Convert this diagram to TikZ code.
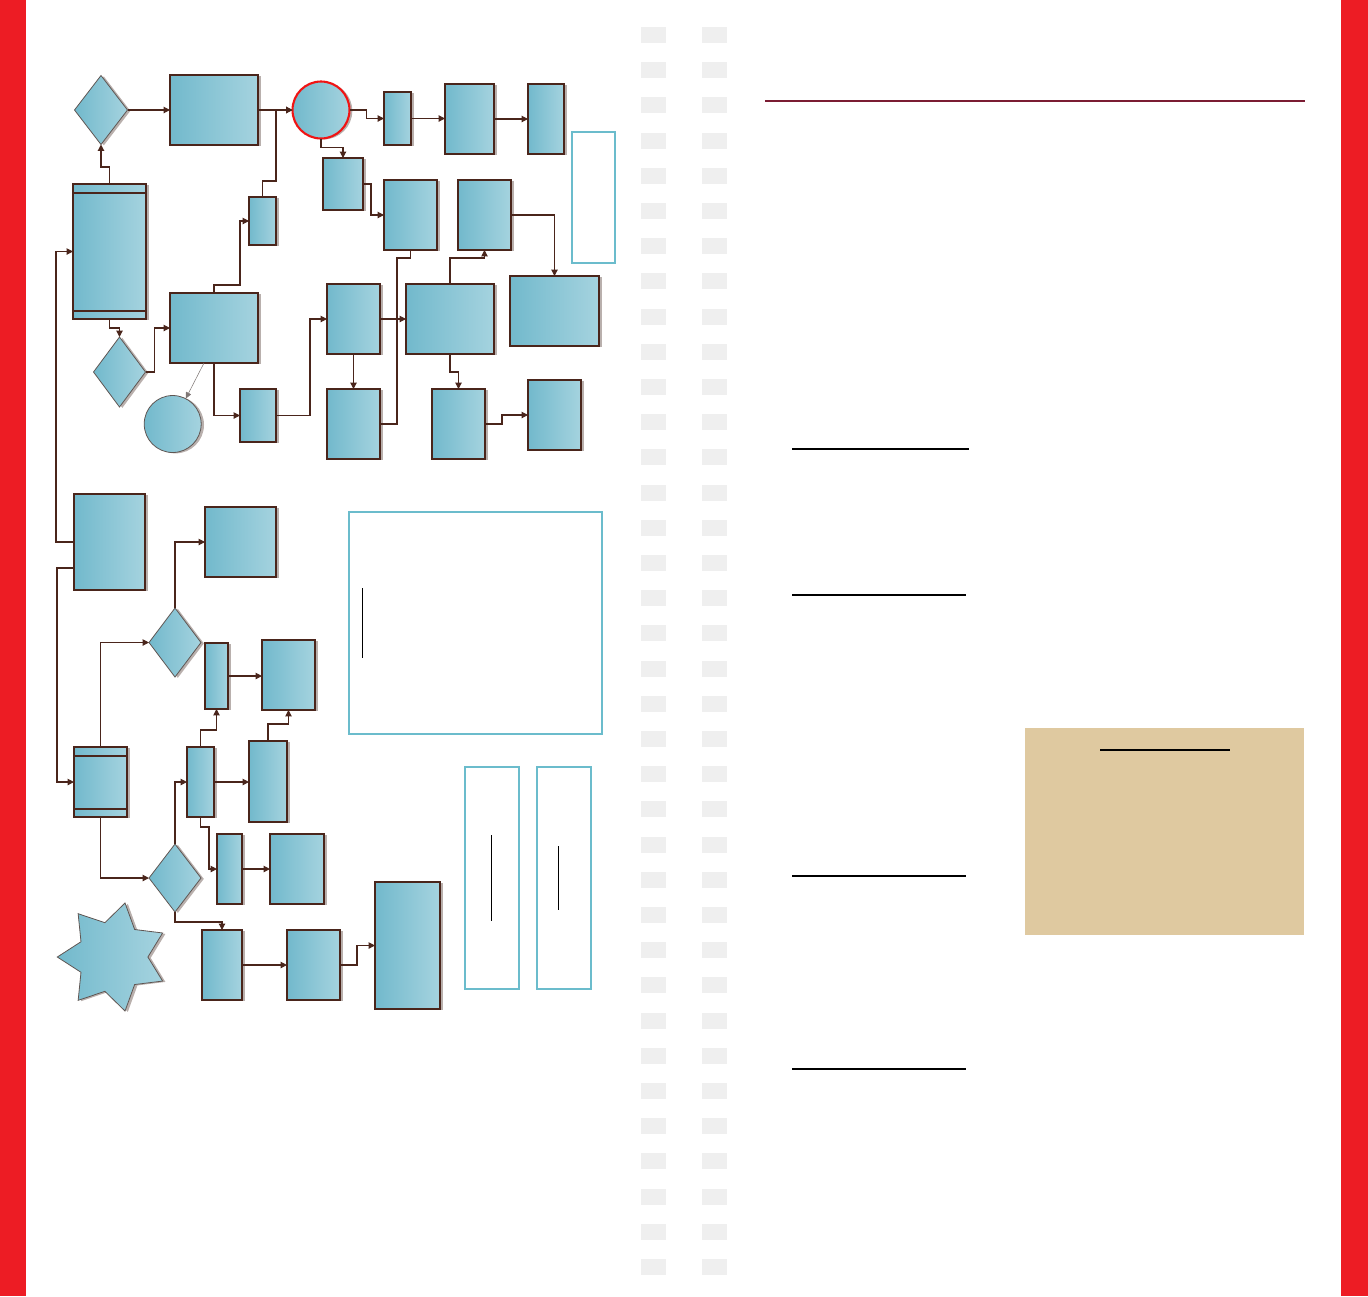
\documentclass[tikz,border=0pt]{standalone}
\usetikzlibrary{arrows.meta,shapes.geometric,shadows,calc}
\definecolor{gA}{RGB}{114,185,204}
\definecolor{gB}{RGB}{165,211,223}
\definecolor{brd}{RGB}{74,37,27}
\definecolor{dgr}{RGB}{95,85,82}
\definecolor{shd}{RGB}{185,176,173}
\definecolor{redbar}{RGB}{237,28,36}
\definecolor{ringred}{RGB}{240,20,20}
\definecolor{sqc}{RGB}{239,239,239}
\definecolor{lblue}{RGB}{107,188,204}
\definecolor{tan}{RGB}{223,201,160}
\definecolor{maroon}{RGB}{123,28,51}
\begin{document}
\begin{tikzpicture}[x=0.02cm,y=-0.02cm,
  wh/.style 2 args={minimum width=#1*0.02cm, minimum height=#2*0.02cm},
  fl/.style={left color=gA, right color=gB,
    drop shadow={shadow xshift=1.6pt, shadow yshift=-0.5pt, fill=shd, opacity=1}},
  bx/.style={fl, rectangle, draw=brd, line width=0.6pt, inner sep=0pt, outer sep=0pt},
  dm/.style={fl, diamond, draw=dgr, line width=0.45pt, inner sep=0pt, outer sep=0pt},
  ci/.style={fl, circle, draw=dgr, line width=0.45pt, inner sep=0pt, outer sep=0pt, minimum size=1.14cm},
  obox/.style={rectangle, draw=lblue, line width=1.2pt, inner sep=0pt},
  ln/.style={draw=brd, line width=0.6pt},
  arr/.style={ln, -{Triangle[length=3.6pt,width=3.6pt]}},
  thinarr/.style={draw=dgr!80, line width=0.3pt, -{Triangle[length=3.6pt,width=3.2pt]}},
  sq/.style={fill=sqc},
  rl/.style={draw=black, line width=0.6pt}
]
\useasboundingbox (0,0) rectangle (1368,1296);
% side bars
\fill[redbar] (0,0) rectangle (26,1296);
\fill[redbar] (1341,0) rectangle (1368,1296);
% grey squares
\foreach \i in {0,...,35}{
  \fill[sq] (641,{27+35.2*\i}) rectangle ++(25,16);
  \fill[sq] (702,{27+35.2*\i}) rectangle ++(25,16);
}
% right side rules
\draw[draw=maroon, line width=0.7pt] (765,101) -- (1305,101);
\draw[rl] (792,449) -- (969,449);
\draw[rl] (792,595) -- (966,595);
\draw[rl] (792,876) -- (966,876);
\draw[rl] (792,1069) -- (966,1069);
\node[fill=tan, inner sep=0pt, wh={279}{207}] (tanbox) at (1164.5,831.5) {};
\draw[rl, line width=0.8pt] (1100,750) -- (1230,750);

% outline boxes
\node[obox, line width=0.6pt, wh={43}{131}] (O1) at (593.5,197.5) {};
\node[obox, wh={253}{222}] (B1) at (475.5,623) {};
\draw[rl] (362.3,588) -- (362.3,657.7);
\node[obox, wh={54}{222}] (B2) at (492,878) {};
\draw[rl] (491.3,835) -- (491.3,920.7);
\node[obox, wh={54}{222}] (B3) at (564,878) {};
\draw[rl] (558.3,846) -- (558.3,909.7);

% upper flowchart
\node[dm, wh={53}{69}] (D1) at (101,110) {};
\node[bx, wh={88}{70}] (R1) at (214,110) {};
\node[ci, draw=ringred, line width=1.2pt] (C1) at (321,110) {};
\node[bx, wh={27}{48}] (Rs) at (262.5,221) {};
\node[bx, wh={73}{135}] (L1) at (109.5,251.5) {};
\draw[ln] ($(L1.north west)+(0,9)$) -- ($(L1.north east)+(0,9)$);
\draw[ln] ($(L1.south west)+(0,-8)$) -- ($(L1.south east)+(0,-8)$);
\node[dm, wh={52}{70}] (D2) at (119.5,372) {};
\node[bx, wh={88}{70}] (R2) at (214,328) {};
\node[ci] (C2) at (172.7,424) {};
\node[bx, wh={36}{53}] (R3) at (258,415.5) {};
\node[bx, wh={53}{70}] (R4) at (353.5,319) {};
\node[bx, wh={53}{70}] (R5) at (353.5,424) {};
\node[bx, wh={88}{70}] (R6) at (450,319) {};
\node[bx, wh={53}{70}] (R7) at (410.5,215) {};
\node[bx, wh={53}{70}] (R8) at (484.5,215) {};
\node[bx, wh={89}{70}] (R9) at (554.5,311) {};
\node[bx, wh={53}{70}] (R10) at (458.5,424) {};
\node[bx, wh={53}{70}] (R11) at (554.5,415) {};
\node[bx, wh={27}{53}] (R12) at (397.5,118.5) {};
\node[bx, wh={49}{70}] (R13) at (469.5,119) {};
\node[bx, wh={36}{70}] (R14) at (546,119) {};
\node[bx, wh={40}{52}] (R15) at (343,184) {};

% lower flowchart
\node[bx, wh={71}{96}] (L2) at (109.5,542) {};
\node[bx, wh={53}{70}] (L3) at (100.5,782) {};
\draw[ln] ($(L3.north west)+(0,9)$) -- ($(L3.north east)+(0,9)$);
\draw[ln] ($(L3.south west)+(0,-8)$) -- ($(L3.south east)+(0,-8)$);
\node[bx, wh={71}{70}] (R16) at (240.5,542) {};
\node[dm, wh={52}{69}] (D3) at (175,642.5) {};
\node[bx, wh={23}{66}] (R17) at (216.5,676) {};
\node[bx, wh={53}{70}] (R18) at (288.5,675) {};
\node[bx, wh={27}{70}] (R19) at (200.5,782) {};
\node[bx, wh={38}{81}] (R20) at (268,781.5) {};
\node[dm, wh={52}{68}] (D4) at (175,878) {};
\node[bx, wh={25}{70}] (R21) at (229.5,869) {};
\node[bx, wh={54}{70}] (R22) at (297,869) {};
\node[bx, wh={40}{70}] (R23) at (222,965) {};
\node[bx, wh={53}{70}] (R24) at (313.5,965) {};
\node[bx, line width=1.5pt, wh={65}{127}] (R25) at (407.5,945.5) {};

% star
\begin{scope}[shift={(112.7,957)}]
\path[fl, draw=dgr, line width=0.45pt]
  plot[samples at={0,...,13}] ({180+\x*360/14}:{ifthenelse(mod(\x,2)==0,55.4,35.2)}) -- cycle;
\end{scope}

% connectors (upper)
\draw[arr] (D1.east) -- (D1.east -| R1.west);
\draw[arr] (R1.east) -- (C1.west);
\draw[arr] (Rs.north) |- (276,181) |- (C1.west);
\draw[arr] (R2.north) |- (240,285) |- (Rs.west);
\draw[arr] (L1.north) -- ++(0,-17) -| (D1.south);
\draw[arr] (L2.west) -- ++(-18,0) |- (L1.west);
\draw[arr] (L1.south) -- ++(0,9) -| (D2.north);
\draw[arr] (D2.east) -- ++(9,0) |- (R2.west);
\draw[thinarr] ($(R2.south)+(-10,0)$) -- (C2);
\draw[arr] (R2.south) |- (R3.west);
\draw[arr] (R3.east) -- ++(34,0) |- (R4.west);
\draw[arr] (R4.south) -- (R5.north);
\draw[arr] (R4.east) -- (R6.west);
\draw[ln] (R5.east) -- ++(17,0) |- ($(R7.south)+(0,8)$) -- (R7.south);
\draw[arr] (R6.north) |- ($(R8.south)+(0,8)$) -- (R8.south);
\draw[arr] (R8.east) -| (R9.north);
\draw[arr] (R6.south) -- ++(0,18) -| (R10.north);
\draw[arr] (R10.east) -- ++(17,0) |- (R11.west);
\draw[arr] (C1.east) -- ++(17,0) |- (R12.west);
\draw[arr] (R12.east) -- (R12.east -| R13.west);
\draw[arr] (R13.east) -- (R14.west);
\draw[arr] (C1.south) -- ++(0,9) -| (R15.north);
\draw[arr] (R15.east) -- ++(8,0) |- (R7.west);

% connectors (lower)
\draw[arr] ($(L2.south west)+(0,-22)$) -- ++(-17,0) |- (L3.west);
\draw[arr] (D3.north) |- (R16.west);
\draw[arr] (L3.north) |- (D3.west);
\draw[arr] (R17.east) -- (R17.east -| R18.west);
\draw[arr] (R19.north) -- ++(0,-17) -| (R17.south);
\draw[arr] (R20.north) -- ++(0,-17) -| (R18.south);
\draw[arr] (D4.north) |- (R19.west);
\draw[arr] (R19.east) -- (R19.east -| R20.west);
\draw[arr] (R19.south) -- ++(0,10) -- ++(8.5,0) |- (R21.west);
\draw[arr] (R21.east) -- (R22.west);
\draw[arr] (L3.south) |- (D4.west);
\draw[arr] (D4.south) -- ++(0,10) -| (R23.north);
\draw[arr] (R23.east) -- (R24.west);
\draw[arr] (R24.east) -- ++(17,0) |- (R25.west);
\end{tikzpicture}
\end{document}
